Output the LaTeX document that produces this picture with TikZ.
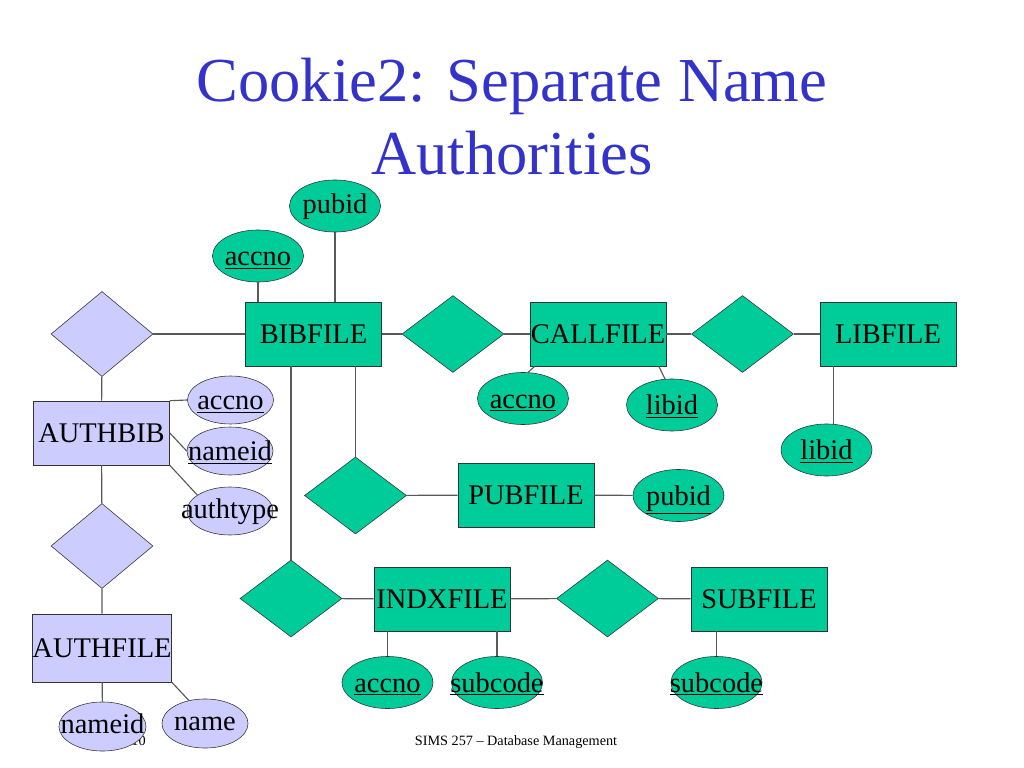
\documentclass[tikz,border=0pt]{standalone}
\usepackage{fontspec}
\setmainfont{Liberation Serif}
\usepackage{tikz}
\usetikzlibrary{shapes,positioning}
\definecolor{erteal}{HTML}{00CC99}
\definecolor{erlav}{HTML}{CCCCFF}
\definecolor{ttlblue}{HTML}{3333CC}
\newcommand{\fld}[1]{\makebox[0pt]{\smash{#1}}\rule[-4pt]{0pt}{18pt}}
\newcommand{\keyfld}[1]{\makebox[0pt]{\smash{\underline{#1}}}\rule[-2pt]{0pt}{18pt}}

\begin{document}
\begin{tikzpicture}[x=0.703125pt,y=-0.703125pt]
\tikzstyle{entity}=[rectangle, draw=black!80, fill=erteal, minimum width=95.6pt, minimum height=45pt, inner sep=0pt, font=\fontsize{20}{24}\selectfont]
\tikzstyle{rel}=[diamond, draw=black!80, fill=erteal, minimum width=71.7pt, minimum height=54.1pt, inner sep=0pt]
\tikzstyle{attr}=[ellipse, draw=black!80, fill=erteal, minimum width=64pt, minimum height=36.6pt, inner sep=0pt, font=\fontsize{20}{24}\selectfont]
\tikzstyle{lavattr}=[attr, fill=erlav, minimum width=60.5pt, minimum height=33.75pt]
\tikzstyle{link}=[draw=black!65, line width=0.8pt]
\useasboundingbox (0,0) rectangle (1024,768);

\node[text=ttlblue, font=\fontsize{44}{52}\selectfont, anchor=base] (t1) at (512,102) {Cookie2: Separate Name};
\node[text=ttlblue, font=\fontsize{44}{52}\selectfont, anchor=base] (t2) at (512,175) {Authorities};

% green part
\node[entity] (bib) at (313.5,334) {BIBFILE};
\node[rel, right=14pt of bib] (r1) {};
\node[entity, right=18pt of r1] (call) {CALLFILE};
\node[rel] (r2) at (742.5,334) {};
\node[entity] (lf) at (888,334) {LIBFILE};
\node[rel] (r3) at (355.5,495.5) {};
\node[entity] (pf) at (526,495) {PUBFILE};
\node[rel] (r4) at (291,598.5) {};
\node[entity] (xf) at (442,599) {INDXFILE};
\node[rel] (r5) at (607.5,598.5) {};
\node[entity] (sf) at (759,599) {SUBFILE};

\node[attr] (pub1) at (335,206) {\fld{pubid}};
\node[attr] (acc1) at (258,256) {\keyfld{accno}};
\node[attr] (acc2) at (523,398.5) {\keyfld{accno}};
\node[attr] (lib1) at (672,405) {\keyfld{libid}};
\node[attr] (lib2) at (826.5,450) {\keyfld{libid}};
\node[attr] (pub2) at (678.5,495.5) {\keyfld{pubid}};
\node[attr] (acc3) at (387.5,682.5) {\keyfld{accno}};
\node[attr] (sub1) at (497,682.5) {\keyfld{subcode}};
\node[attr] (sub2) at (716.5,682.5) {\keyfld{subcode}};

% lavender part
\node[rel, fill=erlav, minimum height=59.8pt] (r6) at (102,334) {};
\node[entity, fill=erlav] (ab) at (101.5,433) {AUTHBIB};
\node[rel, fill=erlav, minimum height=59.8pt] (r7) at (102,546) {};
\node[entity, fill=erlav, minimum height=47.8pt] (af) at (102,648) {AUTHFILE};

\node[lavattr] (acc4) at (230.5,400) {\keyfld{accno}};
\node[lavattr] (nid1) at (230,451) {\keyfld{nameid}};
\node[lavattr] (atype) at (230,511) {\fld{authtype}};
\node[font=\fontsize{10}{12}\selectfont, anchor=base east, inner sep=0pt] (pg) at (146,745) {10};
\node[lavattr, minimum width=61.2pt, minimum height=34.5pt] (nid2) at (102.5,726.5) {\fld{nameid}};
\node[lavattr, minimum height=34.5pt] (nm) at (205,723.5) {\fld{name}};

\node[font=\fontsize{10}{12}\selectfont, anchor=base] (foot) at (516,745) {SIMS 257 -- Database Management};

\draw[link] (acc1) -- (acc1 |- bib.north);
\draw[link] (pub1) -- (pub1 |- bib.north);
\draw[link] (r6) -- (bib) -- (r1) -- (call) -- (r2) -- (lf);
\draw[link] (call.207) -- (acc2.79);
\draw[link] (call.-28) -- (lib1.105);
\draw[link] (lib2.75) -- (lib2.75 |- lf.south);
\draw[link] (r3) -- (r3 |- bib.south);
\draw[link] (r4) -- (r4 |- bib.south);
\draw[link] (r3) -- (pf) -- (pub2);
\draw[link] (r4) -- (xf) -- (r5) -- (sf);
\draw[link] (acc3) -- (acc3 |- xf.south);
\draw[link] (sub1) -- (sub1 |- xf.south);
\draw[link] (sub2) -- (sub2 |- sf.south);
\draw[link] (r6) -- (ab) -- (r7) -- (af) -- (nid2);
\draw[link] (ab.north east) -- (acc4.west);
\draw[link] (ab.east) -- (nid1.west);
\draw[link] (ab.south east) -- (atype.154);
\draw[link] (af.south east) -- (nm.125);
\end{tikzpicture}
\end{document}
